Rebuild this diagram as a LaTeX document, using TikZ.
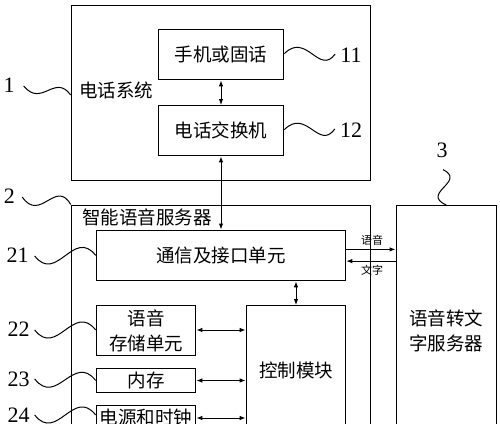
\documentclass[tikz,border=0pt]{standalone}
\usepackage{fontspec}
\newfontfamily\cjk{Noto Sans CJK SC}
\newfontfamily\numfont{Liberation Serif}
\usetikzlibrary{arrows.meta}
\tikzset{
  box/.style={draw, line width=1.3pt, inner sep=0pt, anchor=north west, font=\cjk\fontsize{18.5}{24.5}\selectfont, align=center},
  title/.style={inner sep=0pt, anchor=west, font=\cjk\fontsize{18.5}{24.5}\selectfont},
  small/.style={inner sep=0pt, font=\cjk\fontsize{11}{13}\selectfont},
  num/.style={inner sep=0pt, font=\numfont\fontsize{22}{24}\selectfont},
  lead/.style={line width=1pt},
  dbl/.style={line width=1pt, {Latex[length=6pt,width=4.5pt]}-{Latex[length=6pt,width=4.5pt]}},
  one/.style={line width=1pt, -{Latex[length=6pt,width=4.5pt]}}
}
\begin{document}
\begin{tikzpicture}[x=1pt,y=-1pt]
\useasboundingbox (0,0) rectangle (500,423);
\clip (0,0) rectangle (500,423);
% boxes
\node[box, minimum width=299.3pt, minimum height=175.3pt] (b1) at (70.7,4.7) {};
\node[box, minimum width=125.3pt, minimum height=50pt] (b11) at (157.7,29) {手机或固话};
\node[box, minimum width=125.3pt, minimum height=50pt] (b12) at (157.7,105) {电话交换机};
\node[title] (t1) at (79,90) {电话系统};

\node[box, minimum width=299.3pt, minimum height=275.5pt] (b2) at (70.7,204.5) {};
\node[title] (t2) at (82,217) {智能语音服务器};
\node[box, minimum width=249.3pt, minimum height=50.5pt] (b21) at (95.7,229.5) {通信及接口单元};
\node[box, minimum width=99.3pt, minimum height=50pt] (b22) at (95.7,305) {语音\\存储单元};
\node[box, minimum width=99.3pt, minimum height=24.3pt] (b23) at (95.7,367.7) {内存};
\node[box, minimum width=99.3pt, minimum height=24pt] (b24) at (95.7,405) {电源和时钟};
\node[box, minimum width=99.3pt, minimum height=130pt] (ctrl) at (245.7,305) {控制模块};
\node[box, minimum width=100pt, minimum height=250pt] (b3) at (395.5,205) {语音转文\\字服务器};

% connectors
\draw[dbl] (b11.south) -- (b12.north);
\draw[dbl] (b21.north -| b12.south) -- (b12.south);
\draw[dbl] (b21.south -| ctrl.north) -- (ctrl.north);
\draw[dbl] ([yshift=-25pt]b22.north east) -- ([yshift=-25pt]b22.north east -| ctrl.west);
\draw[dbl] (b23.east) -- (b23.east -| ctrl.west);
\draw[dbl] ([yshift=-13pt]b24.north east) -- ([yshift=-13pt]b24.north east -| ctrl.west);
\draw[one] ([yshift=6pt]b21.east) -- ([yshift=6pt]b21.east -| b3.west);
\draw[one] ([yshift=-5.7pt]b21.east -| b3.west) -- ([yshift=-5.7pt]b21.east);
\node[small] (ly) at (372,240) {语音};
\node[small] (lw) at (372,270.5) {文字};

% numbers and leaders
\node[num] (n1) at (9,85) {1};
\node[num] (n11) at (351,55) {11};
\node[num] (n12) at (351,130) {12};
\node[num] (n2) at (9.5,196) {2};
\node[num] (n3) at (442,150) {3};
\node[num] (n21) at (17.5,255) {21};
\node[num] (n22) at (18.5,329) {22};
\node[num] (n23) at (18.5,379) {23};
\node[num] (n24) at (18.5,415) {24};

\draw[lead] ([xshift=9pt,yshift=-1pt]n1.east) .. controls +(18,22) and +(-16,-22) .. ([yshift=-2pt]b1.west);
\draw[lead] ([yshift=1pt]b11.east) .. controls +(22,-22) and +(-16,22) .. ([xshift=-5pt,yshift=1pt]n11.west);
\draw[lead] ([yshift=1pt]b12.east) .. controls +(22,-22) and +(-16,22) .. ([xshift=-5pt,yshift=1pt]n12.west);
\draw[lead] ([xshift=7pt,yshift=-1pt]n2.east) .. controls +(18,26) and +(-15,-26) .. (b2.north west);
\draw[lead] ([xshift=1pt,yshift=-12pt]n3.south) .. controls +(24,12) and +(-26,-12) .. (b3.north);
\draw[lead] ([xshift=6pt,yshift=-1pt]n21.east) .. controls +(22,28) and +(-22,-28) .. (b21.west);
\draw[lead] ([xshift=5pt,yshift=-1pt]n22.east) .. controls +(22,28) and +(-22,-28) .. ([yshift=-25pt]b22.north west);
\draw[lead] ([xshift=5pt]n23.east) .. controls +(22,28) and +(-22,-28) .. (b23.west);
\draw[lead] ([xshift=5pt]n24.east) .. controls +(22,28) and +(-22,-28) .. ([yshift=-10pt]b24.north west);
\end{tikzpicture}
\end{document}
